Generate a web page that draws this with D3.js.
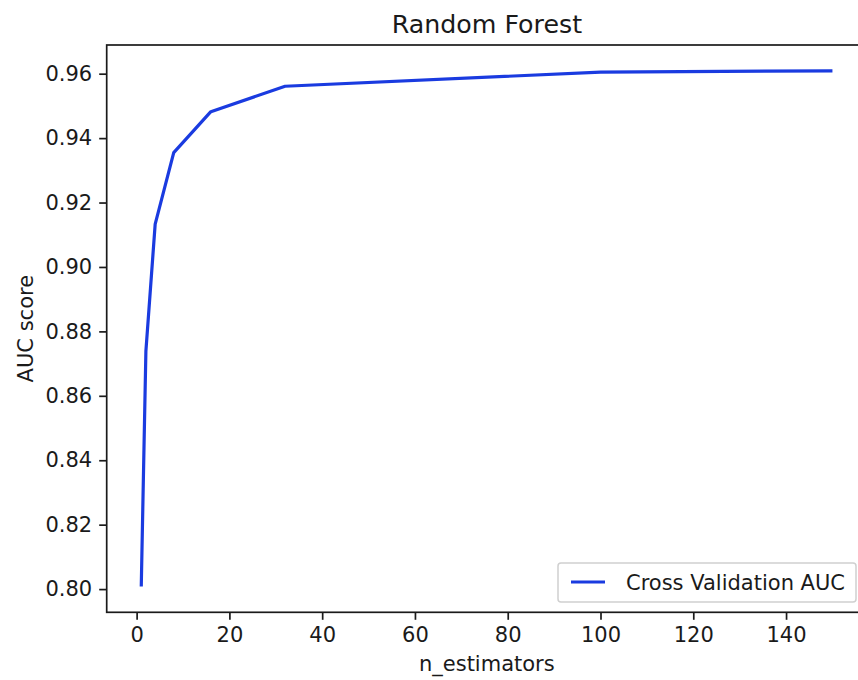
<!DOCTYPE html>
<html>
<head>
<meta charset="utf-8">
<script src="https://cdn.jsdelivr.net/npm/d3@7"></script>
<style>
  html, body { margin: 0; padding: 0; background: #fff; }
  svg { display: block; font-family: "DejaVu Sans", sans-serif; }
</style>
</head>
<body>
<svg id="chart" width="858" height="680"></svg>
<script>
// Cross-validated AUC of a random forest against the number of trees
const nEstimators = [1, 2, 4, 8, 16, 32, 100, 150];
const aucScores = [0.8008, 0.8739, 0.9133, 0.9355, 0.9482, 0.9561, 0.9605, 0.9609];
const xTicks = [0, 20, 40, 60, 80, 100, 120, 140];
const yTicks = [0.80, 0.82, 0.84, 0.86, 0.88, 0.90, 0.92, 0.94, 0.96];
const seriesName = "Cross Validation AUC";
const titleText = "Random Forest";
const xLabel = "n_estimators";
const yLabel = "AUC score";

const svg = d3.select("#chart");
const plot = { left: 106.7, right: 867, top: 45, bottom: 612.3 };

// matplotlib-style 5% margins around the data range
const xMin = d3.min(nEstimators), xMax = d3.max(nEstimators);
const yMin = d3.min(aucScores), yMax = d3.max(aucScores);
const xPad = (xMax - xMin) * 0.05, yPad = (yMax - yMin) * 0.05;

const x = d3.scaleLinear().domain([xMin - xPad, xMax + xPad]).range([plot.left, plot.right]);
const y = d3.scaleLinear().domain([yMin - yPad, yMax + yPad]).range([plot.bottom, plot.top]);

const tickFont = 21;
const ink = "#1a1a1a";

// axes
const xAxis = svg.append("g")
  .attr("transform", `translate(0,${plot.bottom})`)
  .call(d3.axisBottom(x).tickValues(xTicks).tickFormat(d3.format("d")).tickSize(7.5).tickPadding(7));
const yAxis = svg.append("g")
  .attr("transform", `translate(${plot.left},0)`)
  .call(d3.axisLeft(y).tickValues(yTicks).tickFormat(d3.format(".2f")).tickSize(7.5).tickPadding(7));

[xAxis, yAxis].forEach(g => {
  g.select(".domain").remove();
  g.selectAll(".tick line").attr("stroke", ink).attr("stroke-width", 1.7);
  g.selectAll(".tick text").attr("fill", ink).style("font-size", tickFont + "px")
    .style("font-family", "'DejaVu Sans', sans-serif");
});

// axes frame
svg.append("rect")
  .attr("x", plot.left).attr("y", plot.top)
  .attr("width", plot.right - plot.left).attr("height", plot.bottom - plot.top)
  .attr("fill", "none").attr("stroke", ink).attr("stroke-width", 1.7);

// series line
const line = d3.line().x((d, i) => x(nEstimators[i])).y(d => y(d));
svg.append("path")
  .datum(aucScores)
  .attr("d", line)
  .attr("fill", "none")
  .attr("stroke", "#1a3be0")
  .attr("stroke-width", 3.2)
  .attr("stroke-linejoin", "round")
  .attr("stroke-linecap", "butt");

// title and axis labels
svg.append("text")
  .attr("x", (plot.left + plot.right) / 2).attr("y", 33)
  .attr("text-anchor", "middle").attr("fill", ink)
  .style("font-size", "25.3px")
  .text(titleText);

svg.append("text")
  .attr("x", (plot.left + plot.right) / 2).attr("y", 671)
  .attr("text-anchor", "middle").attr("fill", ink)
  .style("font-size", tickFont + "px")
  .text(xLabel);

svg.append("text")
  .attr("transform", `translate(33,${(plot.top + plot.bottom) / 2}) rotate(-90)`)
  .attr("text-anchor", "middle").attr("fill", ink)
  .style("font-size", tickFont + "px")
  .text(yLabel);

// legend
const legend = svg.append("g");
legend.append("rect")
  .attr("x", 558).attr("y", 563).attr("width", 298).attr("height", 39)
  .attr("rx", 3).attr("fill", "#fff").attr("fill-opacity", 0.8)
  .attr("stroke", "#d0d0d0").attr("stroke-width", 1.5);
legend.append("line")
  .attr("x1", 571).attr("x2", 605).attr("y1", 582).attr("y2", 582)
  .attr("stroke", "#1a3be0").attr("stroke-width", 3.2);
legend.append("text")
  .attr("x", 626).attr("y", 589.5).attr("fill", ink)
  .style("font-size", tickFont + "px")
  .text(seriesName);
</script>
</body>
</html>
